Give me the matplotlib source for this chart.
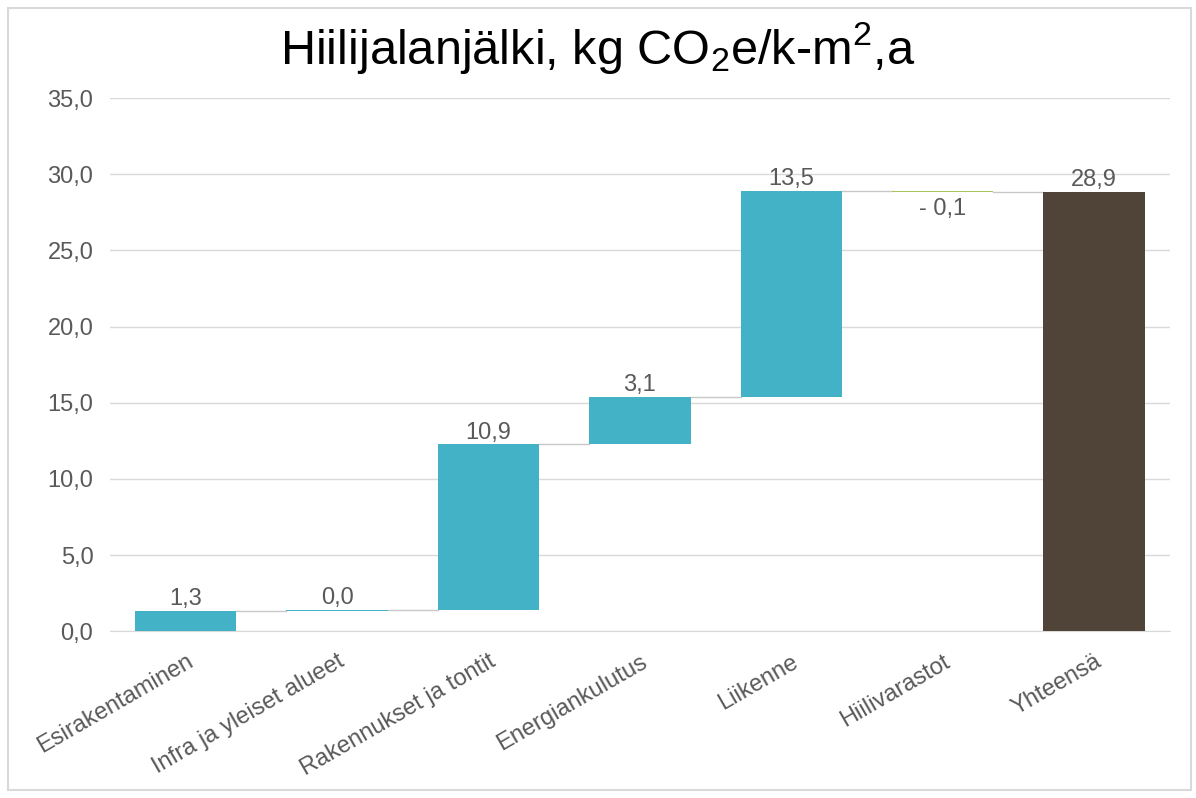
import matplotlib.pyplot as plt
from matplotlib.patches import Rectangle

plt.rcParams['font.family'] = ['Liberation Sans', 'DejaVu Sans']
plt.rcParams['mathtext.fontset'] = 'custom'
plt.rcParams['mathtext.rm'] = 'Liberation Sans'
plt.rcParams['mathtext.it'] = 'Liberation Sans:italic'

categories = ['Esirakentaminen', 'Infra ja yleiset alueet', 'Rakennukset ja tontit',
              'Energiankulutus', 'Liikenne', 'Hiilivarastot']
values = [1.34, 0.04, 10.88, 3.14, 13.52, -0.06]
total_label = 'Yhteensä'
yticks = [0, 5, 10, 15, 20, 25, 30, 35]

pos_color = '#43b1c6'
neg_color = '#a9c25d'
total_color = '#4f4437'
text_color = '#595959'


def fmt(v):
    s = f'{abs(v):.1f}'.replace('.', ',')
    return ('- ' + s) if v < 0 else s


fig = plt.figure(figsize=(11.96, 7.98), dpi=100)
ax = fig.add_axes([0.092, 0.209, 0.886, 0.668])

# waterfall: bases from running total
bases = []
run = 0.0
for v in values:
    bases.append(run if v >= 0 else run + v)
    run += v
total = run

xs = list(range(len(categories) + 1))
width = 0.67
colors = [pos_color if v >= 0 else neg_color for v in values]
ax.bar(xs[:-1], [abs(v) for v in values], bottom=bases, width=width,
       color=colors, zorder=3)
ax.bar(xs[-1], total, width=width, color=total_color, zorder=3)

# connectors
run = 0.0
for i, v in enumerate(values):
    run += v
    ax.plot([i + width / 2, i + 1 - width / 2], [run, run], color='#c8c8c8',
            lw=1, zorder=2)

# data labels
run = 0.0
for i, v in enumerate(values):
    if v >= 0:
        ax.text(i, run + v + 0.05, fmt(v), ha='center', va='bottom',
                fontsize=17, color=text_color)
    else:
        ax.text(i, run + v - 0.4, fmt(v), ha='center', va='top',
                fontsize=17, color=text_color)
    run += v
ax.text(xs[-1], total + 0.05, fmt(total), ha='center', va='bottom',
        fontsize=17, color=text_color)

ax.set_xlim(-0.5, len(xs) - 0.5)
ax.set_ylim(0, 35)
ax.set_yticks(yticks)
ax.set_yticklabels([f'{t:.1f}'.replace('.', ',') for t in yticks])
ax.set_xticks(xs)
ax.set_xticklabels(categories + [total_label], rotation=30, ha='right',
                   rotation_mode='anchor')
ax.tick_params(axis='both', length=0, labelsize=17, labelcolor=text_color)
ax.tick_params(axis='x', pad=14)
ax.tick_params(axis='y', pad=12)
ax.grid(axis='y', color='#d9d9d9', lw=1, zorder=0)
for s in ['top', 'right', 'left']:
    ax.spines[s].set_visible(False)
ax.spines['bottom'].set_color('#d9d9d9')

fig.text(0.5, 0.94, 'Hiilijalanjälki, kg CO$_2$e/k-m$^2$,a', ha='center',
         va='center', fontsize=35, color='black')

fig.patches.append(Rectangle((0.007, 0.01), 0.989, 0.98, transform=fig.transFigure,
                             fill=False, edgecolor='#d9d9d9', lw=1.5))

fig.savefig('out.png', dpi=100)
